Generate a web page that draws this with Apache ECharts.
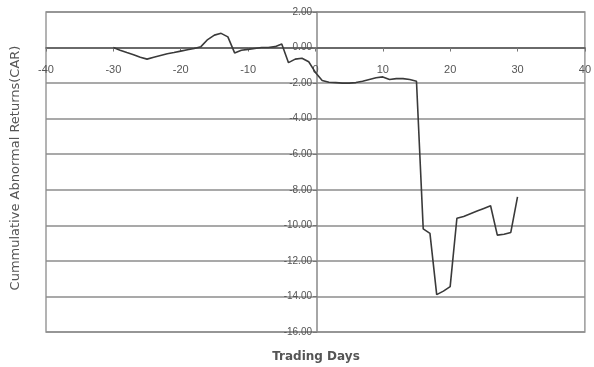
<!DOCTYPE html>
<html lang="en">
<head>
	<meta charset="UTF-8">
	<title>CAR</title>
	<script type="text/javascript" src="https://cdn.jsdelivr.net/npm/echarts@6/dist/echarts.min.js"></script>
	<style>
		html, body { margin: 0; padding: 0; background: #fff; }
	</style>
</head>
<body>
	<div id="car" style="width: 594px;height: 367px;"></div>
	<script type="text/javascript">
		// trading days relative to event day
		var days = [];
		for (var d = -30; d <= 30; d++) days.push(d);

		var carValues = [
			0.00, -0.15, -0.28, -0.40, -0.55, -0.65, -0.55, -0.45, -0.35, -0.28,
			-0.20, -0.12, -0.05, 0.05, 0.45, 0.70, 0.80, 0.60, -0.30, -0.15,
			-0.10, -0.05, 0.00, 0.00, 0.05, 0.20, -0.85, -0.65, -0.60, -0.80,
			-1.40, -1.85, -1.95, -1.97, -2.00, -2.00, -1.97, -1.90, -1.80, -1.70,
			-1.65, -1.80, -1.75, -1.75, -1.80, -1.90, -10.20, -10.45, -13.90, -13.70,
			-13.45, -9.60, -9.50, -9.35, -9.20, -9.05, -8.90, -10.55, -10.50, -10.40,
			-8.40
		];

		var xTicks = { min: -40, max: 40, step: 10 };
		var yTicks = { min: -16, max: 2, step: 2 };

		var seriesData = [];
		for (var i = 0; i < days.length; i++) {
			seriesData.push([days[i], carValues[i]]);
		}

		var gridL = 46, gridR = 6, gridT = 12, gridB = 35;
		var W = 594, H = 367;
		var plotW = W - gridL - gridR, plotH = H - gridT - gridB;
		// move the axes so they cross at (0, 0), labels included
		var xOffset = -plotH * (0 - yTicks.min) / (yTicks.max - yTicks.min);
		var yOffset = -plotW * (0 - xTicks.min) / (xTicks.max - xTicks.min);

		var chart = echarts.init(document.getElementById('car'));
		var option = {
			animation: false,
			backgroundColor: '#fff',
			textStyle: { fontFamily: 'Liberation Sans, Arial, sans-serif' },
			grid: {
				left: gridL, right: gridR, top: gridT, bottom: gridB,
				show: true,
				borderColor: '#9a9a9a',
				borderWidth: 1.5,
				backgroundColor: '#fff'
			},
			graphic: [
				{
					type: 'text',
					x: 16, y: 168,
					rotation: Math.PI / 2,
					style: {
						text: 'Cummulative Abnormal Returns(CAR)',
						fill: '#555',
						font: '13px "DejaVu Sans", sans-serif',
						align: 'center',
						verticalAlign: 'middle'
					}
				},
				{
					type: 'text',
					x: 316, y: 357,
					style: {
						text: 'Trading Days',
						fill: '#555',
						font: 'bold 12px "DejaVu Sans", sans-serif',
						align: 'center',
						verticalAlign: 'middle'
					}
				}
			],
			xAxis: {
				type: 'value',
				min: xTicks.min,
				max: xTicks.max,
				interval: xTicks.step,
				position: 'bottom',
				offset: xOffset,
				axisLine: { onZero: false, lineStyle: { color: '#555', width: 1.5 } },
				axisTick: { show: true, inside: false, length: 4, lineStyle: { color: '#777' } },
				axisLabel: { color: '#555', fontSize: 11, margin: 17 },
				splitLine: { show: false }
			},
			yAxis: {
				type: 'value',
				min: yTicks.min,
				max: yTicks.max,
				interval: yTicks.step,
				position: 'left',
				offset: yOffset,
				axisLine: { onZero: false, lineStyle: { color: '#888', width: 1.5 } },
				axisTick: { show: true, length: 4, lineStyle: { color: '#777' } },
				axisLabel: {
					color: '#555', fontSize: 10, margin: 5,
					formatter: function (v) { return v.toFixed(2); }
				},
				splitLine: { show: true, lineStyle: { color: '#8c8c8c', width: 1.5 } }
			},
			series: [
				{
					type: 'line',
					data: seriesData,
					symbol: 'none',
					lineStyle: { color: '#3a3a3a', width: 1.6 },
					z: 5
				}
			]
		};
		chart.setOption(option);
	</script>
</body>
</html>
